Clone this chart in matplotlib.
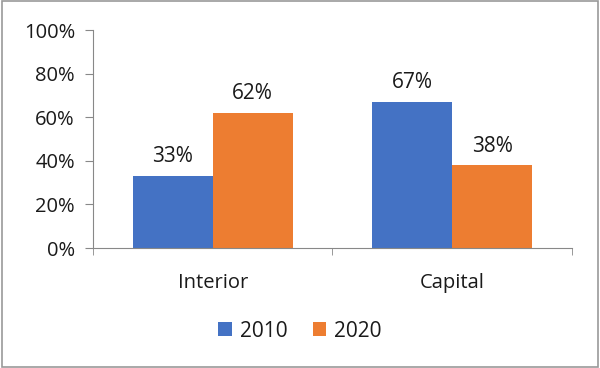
import matplotlib.pyplot as plt
import numpy as np
from matplotlib.patches import Rectangle

plt.rcParams['font.family'] = ['Open Sans', 'DejaVu Sans']

categories = ["Interior", "Capital"]
years = ["2010", "2020"]
values_2010 = [33, 67]
values_2020 = [62, 38]
colors = ["#4472C4", "#ED7D31"]

fig = plt.figure(figsize=(6, 3.68), dpi=100)
ax = fig.add_axes([0.155, 0.326, 0.798, 0.592])

x = np.arange(len(categories))
w = 0.334
b1 = ax.bar(x - w / 2, values_2010, w, color=colors[0], label=years[0])
b2 = ax.bar(x + w / 2, values_2020, w, color=colors[1], label=years[1])

for bars in (b1, b2):
    for r in bars:
        ax.text(r.get_x() + r.get_width() / 2, r.get_height() + 4,
                f"{int(r.get_height())}%", ha="center", va="bottom",
                fontsize=15, color="#1a1a1a")

ax.set_xlim(-0.5, 1.5)
ax.set_ylim(0, 100)
ax.set_yticks(range(0, 101, 20))
ax.set_yticklabels([f"{v}%" for v in range(0, 101, 20)])
ax.set_xticks(x)
ax.set_xticklabels(categories)
ax.set_xticks([-0.5, 0.5, 1.5], minor=True)
ax.tick_params(axis="x", which="major", length=0, pad=18, labelsize=14.5, labelcolor="#1a1a1a")
ax.tick_params(axis="x", which="minor", length=5, color="#888888")
ax.tick_params(axis="y", length=6, color="#888888", labelsize=14.5, pad=7, labelcolor="#1a1a1a")

for s in ["top", "right"]:
    ax.spines[s].set_visible(False)
for s in ["left", "bottom"]:
    ax.spines[s].set_color("#888888")

leg = ax.legend(loc="center", bbox_to_anchor=(0.5, 0.1), bbox_transform=fig.transFigure,
                ncol=2, frameon=False, fontsize=15, handlelength=0.65, handleheight=0.65,
                columnspacing=1.2, handletextpad=0.4)
for t in leg.get_texts():
    t.set_color("#1a1a1a")

fig.patches.append(Rectangle((0.003, 0.004), 0.994, 0.992, transform=fig.transFigure,
                             fill=False, edgecolor="#999999", linewidth=1.2))

fig.savefig("out.png", dpi=100)
